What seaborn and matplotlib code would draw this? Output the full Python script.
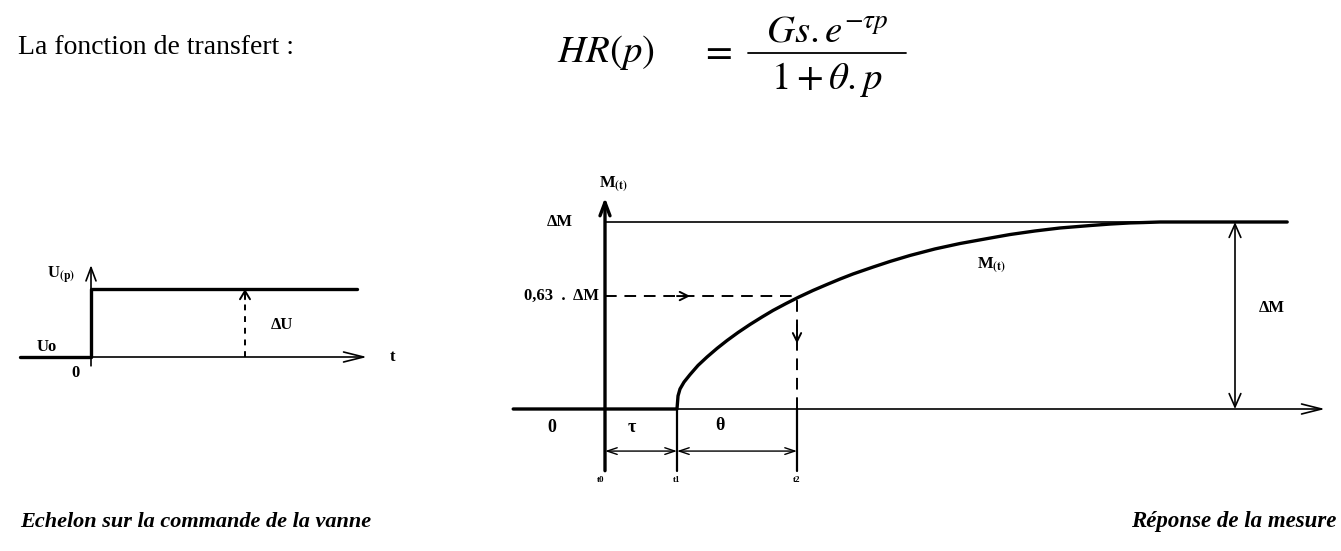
import numpy as np
import pandas as pd
import matplotlib
matplotlib.use("Agg")
import matplotlib.pyplot as plt
import seaborn as sns

# ---------------- data (diagram units) ----------------
# Left diagram: step on the valve command (Uo = 0, ΔU = 1)
step_t = [-1.42, 0.0, 0.0, 5.32]
step_u = [0.0, 0.0, 1.0, 1.0]
du_t = 3.08            # position of the ΔU arrow
u_axis_end = 5.52      # tip of time axis

# Right diagram: measured response (ΔM = 1), t0 = 0
tau = 1.2
theta = 2.0
resp_t = [-1.53, 1.2, 1.217, 1.25, 1.317, 1.417, 1.55, 1.7, 1.867, 2.033, 2.217, 2.417,
          2.617, 2.8, 3.017, 3.233, 3.467, 3.7, 3.917, 4.133, 4.467, 4.75, 5.083, 5.5,
          5.917, 6.417, 6.75, 7.167, 7.583, 8.083, 8.417, 8.75, 8.967, 9.25, 11.37]
resp_m = [0.0, 0.0, 0.070, 0.107, 0.144, 0.184, 0.233, 0.278, 0.324, 0.366, 0.409, 0.452,
          0.492, 0.527, 0.564, 0.599, 0.634, 0.666, 0.695, 0.722, 0.759, 0.789, 0.821, 0.856,
          0.885, 0.914, 0.933, 0.952, 0.968, 0.981, 0.989, 0.995, 0.997, 1.0, 1.0]
level_063 = 0.604
merge_t = 9.25
dm_arrow_t = 10.5
m_axis_end = 12.0

# ---------------- figure ----------------
sns.set_theme(style="white")
plt.rcParams["font.family"] = ["Liberation Serif", "DejaVu Serif"]
plt.rcParams["mathtext.fontset"] = "stix"

W, H = 1341, 551
fig = plt.figure(figsize=(W / 100, H / 100), dpi=100)
fig.patch.set_facecolor("white")

K = "black"
thick = 2.4
thin = 1.2


def arrow(ax, xy, xytext, style="->", lw=1.2, hl=0.9, hw=0.35):
    ax.annotate("", xy=xy, xytext=xytext,
                arrowprops=dict(arrowstyle=f"{style},head_length={hl},head_width={hw}",
                                lw=lw, color=K, shrinkA=0, shrinkB=0))


# ----- left axes (pixel x = 91 + 50 t, pixel y = 357 - 68 U) -----
axL = fig.add_axes([0, 0, 1, 1])
axL.set_xlim(-91 / 50, (W - 91) / 50)
axL.set_ylim((357 - H) / 68, 357 / 68)
axL.axis("off")
axL.patch.set_alpha(0)

sns.lineplot(x=step_t, y=step_u, sort=False, color=K, lw=thick, ax=axL, estimator=None)
arrow(axL, (u_axis_end, 0), (0, 0), lw=thin, hl=1.2, hw=0.3)
arrow(axL, (0, 1.35), (0, -0.13), lw=thin, hl=0.8, hw=0.3)
axL.plot([du_t, du_t], [0, 0.9], color=K, lw=1.4, ls=(0, (3, 3)))
arrow(axL, (du_t, 1.0), (du_t, 0.85), lw=1.4, hl=0.5, hw=0.3)

tk = dict(color=K, fontweight="bold", fontsize=12)
axL.text(-0.6, 1.2, r"U$_{\mathbf{(p)}}$", ha="center", va="center", **tk)
axL.text(-0.88, 0.15, "Uo", ha="center", va="center", **tk)
axL.text(-0.3, -0.24, "0", ha="center", va="center", **tk)
axL.text(3.82, 0.47, "ΔU", ha="center", va="center", **tk)
axL.text(6.04, 0.0, "t", ha="center", va="center", **tk)

# ----- right axes (pixel x = 605 + 60 t, pixel y = 409 - 187 M) -----
axR = fig.add_axes([0, 0, 1, 1])
axR.set_xlim(-605 / 60, (W - 605) / 60)
axR.set_ylim((409 - H) / 187, 409 / 187)
axR.axis("off")
axR.patch.set_alpha(0)

t2 = tau + theta
# thin reference lines
axR.plot([0, merge_t], [1, 1], color=K, lw=thin)
arrow(axR, (m_axis_end, 0), (0, 0), lw=thin, hl=1.2, hw=0.3)
arrow(axR, (0, 1.13), (0, -0.33), lw=thick, hl=0.8, hw=0.3)
for tt in (tau, t2):
    axR.plot([tt, tt], [-0.33, 0], color=K, lw=1.6)
# response curve
sns.lineplot(x=resp_t, y=resp_m, sort=False, color=K, lw=thick, ax=axR, estimator=None)
# dashed construction
axR.plot([0, t2], [level_063, level_063], color=K, lw=1.4, ls=(0, (6, 4)))
axR.plot([t2, t2], [0, level_063], color=K, lw=1.4, ls=(0, (6, 4)))
arrow(axR, (1.42, level_063), (1.2, level_063), lw=1.4, hl=0.5, hw=0.25)
arrow(axR, (t2, 0.35), (t2, 0.45), lw=1.4, hl=0.5, hw=0.25)
# dimension arrows
arrow(axR, (tau, -0.225), (0, -0.225), style="<->", lw=1.0, hl=0.6, hw=0.2)
arrow(axR, (t2, -0.225), (tau, -0.225), style="<->", lw=1.0, hl=0.6, hw=0.2)
arrow(axR, (dm_arrow_t, 1.0), (dm_arrow_t, 0.0), style="<->", lw=1.2, hl=0.8, hw=0.35)

axR.text(0.15, 1.2, r"M$_{\mathbf{(t)}}$", ha="center", va="center", **tk)
axR.text(-0.75, 1.0, "ΔM", ha="center", va="center", **tk)
axR.text(-0.1, level_063, "0,63  .  ΔM", ha="right", va="center", **tk)
axR.text(6.45, 0.77, r"M$_{\mathbf{(t)}}$", ha="center", va="center", **tk)
axR.text(11.12, 0.54, "ΔM", ha="center", va="center", **tk)
axR.text(-0.88, -0.10, "0", ha="center", va="center", color=K, fontweight="bold", fontsize=13)
axR.text(0.45, -0.10, "τ", ha="center", va="center", color=K, fontweight="bold", fontsize=13)
axR.text(1.92, -0.09, "θ", ha="center", va="center", color=K, fontweight="bold", fontsize=13)
for lab, tt in (("t0", 0.0), ("t1", tau), ("t2", t2)):
    axR.text(tt - (0.08 if lab == "t0" else 0), -0.38, lab, ha="center", va="center",
             color=K, fontweight="bold", fontsize=6.5)

# ----- texts -----
def fx(px):
    return px / W


def fy(py):
    return 1 - py / H


fig.text(fx(18), fy(48), "La fonction de transfert :", ha="left", va="center",
         fontsize=20, color=K)
fs_eq = 28
fig.text(fx(606), fy(62), r"$HR(p)$", ha="center", va="baseline", fontsize=fs_eq, color=K)
fig.text(fx(716), fy(62), r"$=$", ha="center", va="baseline", fontsize=fs_eq, color=K)
fig.text(fx(827), fy(42), r"$Gs{.}e^{-\tau p}$", ha="center", va="baseline", fontsize=fs_eq, color=K)
fig.text(fx(827), fy(89), r"$1+\theta{.}p$", ha="center", va="baseline", fontsize=fs_eq, color=K)
fig.add_artist(plt.Line2D([fx(748), fx(906)], [fy(53), fy(53)], color=K, lw=1.3,
                          transform=fig.transFigure))
fig.text(fx(20), fy(522), "Echelon sur la commande de la vanne", ha="left", va="center",
         fontsize=16, fontweight="bold", fontstyle="italic", color=K)
fig.text(fx(1336), fy(522), "Réponse de la mesure", ha="right", va="center",
         fontsize=16.5, fontweight="bold", fontstyle="italic", color=K)

fig.savefig("out.png", dpi=100, facecolor="white")
